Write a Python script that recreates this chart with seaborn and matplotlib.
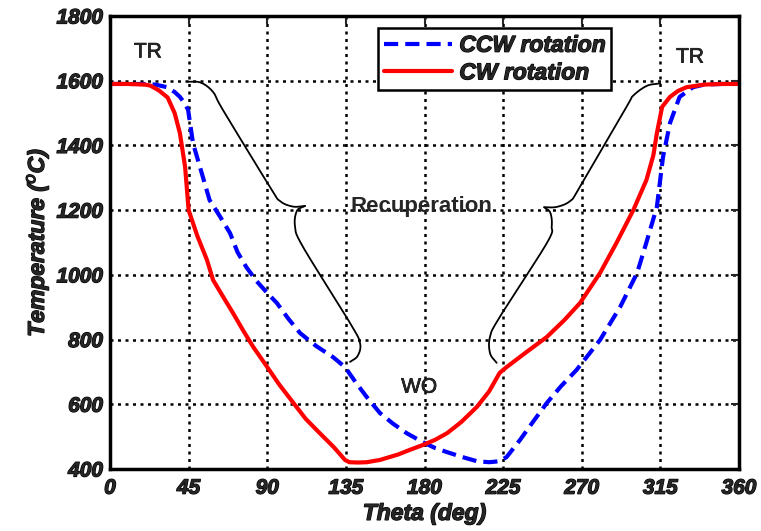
import matplotlib
matplotlib.use("Agg")
import matplotlib.pyplot as plt
import matplotlib.patheffects as pe
import seaborn as sns
import numpy as np
import pandas as pd

# ---- data ----
cw_theta = [0, 10, 20, 23, 28, 33, 37, 40, 43, 45, 50, 55.5, 59, 65, 70.4, 76, 82, 90, 97, 105, 112, 120, 128,
            134.5, 137, 142, 147, 154.5, 165, 172, 179, 186, 193, 201, 210, 217, 223, 227, 238, 250, 260, 269,
            280.5, 290, 299.5, 307, 311, 313, 316, 320.5, 325, 330, 340, 350, 360]
cw_temp = [1590, 1590, 1588, 1585, 1570, 1548, 1500, 1438, 1333, 1200, 1120, 1046, 984, 930, 882, 830, 777, 715,
           660, 604, 555, 511, 468, 428, 421, 420, 421, 428, 445, 460, 474, 490, 511, 545, 592, 640, 697, 715,
           760, 808, 860, 913, 1006, 1100, 1200, 1293, 1370, 1438, 1519, 1550, 1568, 1580, 1588, 1590, 1590]

ccw_theta = [0, 10, 19, 26, 32.6, 37, 40, 42.5, 44.7, 47.5, 51.5, 57, 63, 68.7, 73, 78, 84, 90, 95.5, 102, 108.8,
             118, 127.6, 134.5, 141, 147, 154.5, 162, 170, 179, 186, 193, 201, 210, 217, 223, 227, 234.7, 242,
             250, 258, 267, 280.5, 292, 301.7, 307, 313, 316.5, 320.5, 326, 333.7, 340, 350, 360]
ccw_temp = [1590, 1590, 1590, 1588, 1580, 1565, 1550, 1532, 1510, 1407, 1333, 1231, 1180, 1129, 1070, 1024, 980,
            944, 913, 865, 820, 780, 746, 715, 665, 622, 573, 540, 510, 483, 465, 452, 438, 424, 421, 424, 437,
            490, 545, 604, 655, 706, 799, 901, 1006, 1100, 1210, 1364, 1469, 1550, 1580, 1588, 1590, 1590]

x_ticks = [0, 45, 90, 135, 180, 225, 270, 315, 360]
y_ticks = [400, 600, 800, 1000, 1200, 1400, 1600, 1800]

# brace annotations (each: upper arm, lower arm), in data units
left_brace_upper = [(44.5, 1597), (52, 1594), (59, 1565), (64.7, 1509), (91.6, 1271), (97.3, 1228),
                    (104.7, 1211), (111.6, 1213)]
left_brace_lower = [(111.6, 1213), (107.0, 1198), (105.9, 1150), (110.5, 1086), (137.4, 851), (143.1, 789),
                    (141.8, 750), (137.4, 731)]
right_brace_upper = [(315.0, 1592), (307.2, 1584), (299.3, 1553), (295.7, 1520), (269, 1272), (263.3, 1228),
                     (255.7, 1210), (248.5, 1209)]
right_brace_lower = [(248.5, 1209), (252.0, 1192), (252.8, 1150), (250, 1098), (223.2, 871), (217.5, 809),
                     (217.5, 758), (221.3, 728)]

df_cw = pd.DataFrame({"theta": cw_theta, "temp": cw_temp})
df_ccw = pd.DataFrame({"theta": ccw_theta, "temp": ccw_temp})


def catmull_rom(pts, n=20):
    p = np.asarray(pts, dtype=float)
    p = np.vstack([p[0] * 2 - p[1], p, p[-1] * 2 - p[-2]])
    out = []
    for i in range(1, len(p) - 2):
        p0, p1, p2, p3 = p[i - 1], p[i], p[i + 1], p[i + 2]
        t = np.linspace(0, 1, n, endpoint=False)[:, None]
        seg = 0.5 * ((2 * p1) + (-p0 + p2) * t + (2 * p0 - 5 * p1 + 4 * p2 - p3) * t ** 2
                     + (-p0 + 3 * p1 - 3 * p2 + p3) * t ** 3)
        out.append(seg)
    out.append(p[-2][None, :])
    return np.vstack(out)


sns.set_style("white")
plt.rcParams['font.family'] = ['Liberation Sans', 'DejaVu Sans']

fig = plt.figure(figsize=(7.61, 5.31), dpi=100)
ax = fig.add_axes([110 / 761, 1 - 469 / 531, 629 / 761, 453 / 531])

sns.lineplot(data=df_ccw, x="theta", y="temp", ax=ax, color="#0000ff", lw=3, label="CCW rotation",
             estimator=None, sort=False)
ax.lines[-1].set_dashes([3.4, 1.7])
sns.lineplot(data=df_cw, x="theta", y="temp", ax=ax, color="#ff0000", lw=3, label="CW rotation",
             estimator=None, sort=False)

ax.set_xlim(0, 360)
ax.set_ylim(400, 1800)
ax.set_xticks(x_ticks)
ax.set_yticks(y_ticks)
heavy = [pe.withStroke(linewidth=0.9, foreground='black')]
medium = [pe.withStroke(linewidth=0.5, foreground='black')]
tick_font = dict(fontsize=15, fontweight='bold', fontstyle='italic', path_effects=heavy)
ax.set_xticklabels([str(t) for t in x_ticks], **tick_font)
ax.set_yticklabels([str(t) for t in y_ticks], **tick_font)
ax.tick_params(direction='in', length=6, width=1.5, top=True, right=True)
ax.tick_params(axis='y', pad=5)
ax.tick_params(axis='x', pad=7)

ax.grid(True, color='black', linestyle=(0, (1.2, 1.8)), linewidth=1.8)
for s in ax.spines.values():
    s.set_linewidth(2.5)
    s.set_color('black')

ax.set_xlabel("Theta (deg)", fontsize=16.5, fontweight='bold', fontstyle='italic', labelpad=3,
              path_effects=heavy)
ax.set_ylabel(r"Temperature ($^{o}$C)", fontsize=16.5, fontweight='bold', fontstyle='italic', labelpad=4,
              path_effects=heavy)

for arm in (left_brace_upper, left_brace_lower, right_brace_upper, right_brace_lower):
    c = catmull_rom(arm)
    ax.plot(c[:, 0], c[:, 1], color='black', lw=1.3, solid_capstyle='round', solid_joinstyle='round')

ax.text(21.7, 1689, "TR", fontsize=15, ha='center', va='center', path_effects=medium)
ax.text(332, 1673, "TR", fontsize=15, ha='center', va='center', path_effects=medium)
ax.text(178, 1210, "Recuperation", fontsize=16, ha='center', va='center', fontweight='bold')
ax.text(177, 653, "WO", fontsize=15, ha='center', va='center', path_effects=medium)

leg = ax.legend(loc='upper left', bbox_to_anchor=(268 / 629, 441 / 453), frameon=True, fancybox=False,
                prop=dict(family='Liberation Sans', size=16.5, weight='bold', style='italic'),
                handlelength=3.0, borderpad=0.25, labelspacing=0.2, handletextpad=0.3, borderaxespad=0)
for t in leg.get_texts():
    t.set_path_effects(heavy)
leg.get_frame().set_edgecolor('black')
leg.get_frame().set_linewidth(1.8)
leg.get_frame().set_alpha(1)

fig.savefig("out.png", dpi=100)
